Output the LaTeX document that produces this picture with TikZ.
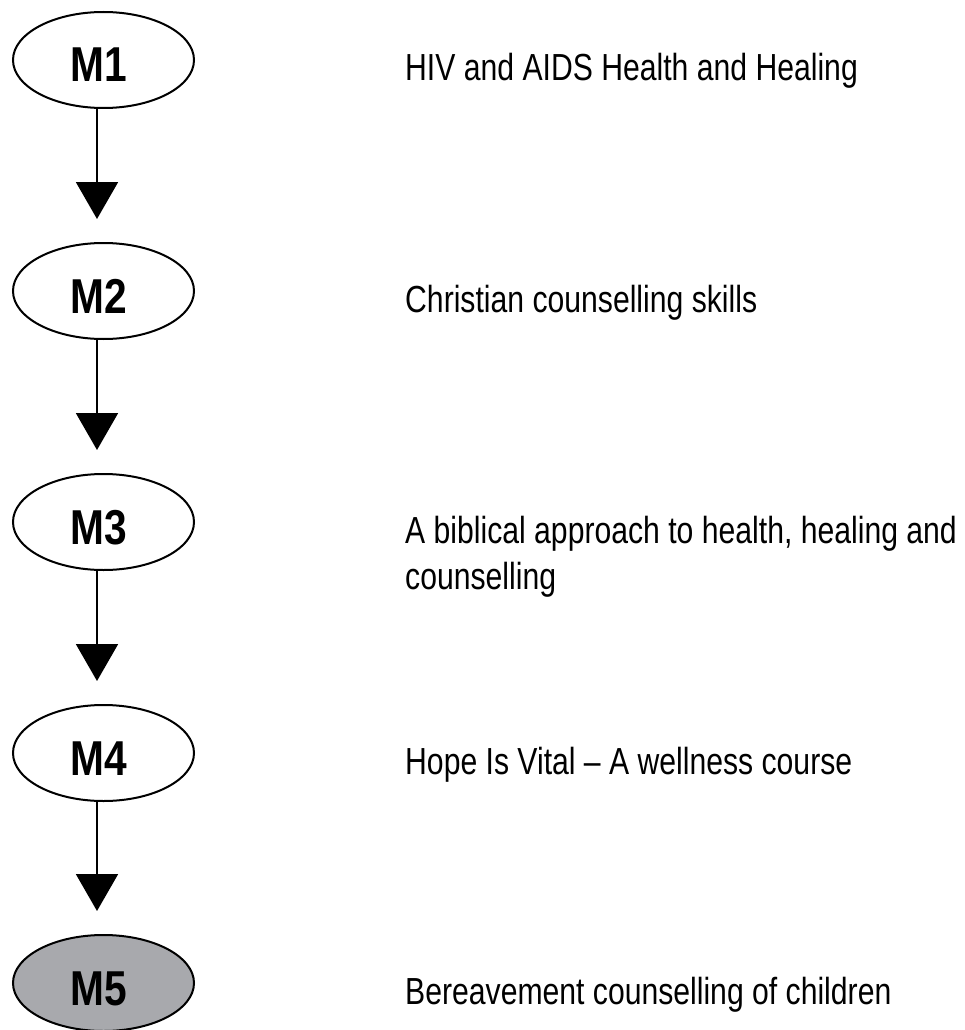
\documentclass[tikz,border=0pt]{standalone}
\usepackage{fontspec}
\setmainfont{Liberation Sans}
\newfontfamily\modfont{Liberation Sans Bold}[FakeStretch=0.83]
\newfontfamily\lblfont{Liberation Sans}[FakeStretch=0.8]
\usetikzlibrary{arrows.meta,shapes.geometric}
\definecolor{modgray}{RGB}{168,169,173}
\begin{document}
\begin{tikzpicture}[x=1pt,y=-1pt,
  module/.style={draw=black, line width=2pt, ellipse, fill=white, inner sep=0pt,
    minimum width=181pt, minimum height=96pt, text height=44pt, text depth=0pt,
    font=\modfont\fontsize{49}{58}\selectfont},
  lbl/.style={anchor=base west, inner sep=0pt, font=\lblfont\fontsize{37.7}{46}\selectfont},
  flow/.style={draw=black, line width=2pt, shorten >=23pt,
    -{Triangle[width=42pt,length=37pt]}}
]
\useasboundingbox (0,0) rectangle (965,1030);
\node[module] (m1) at (103.5,60) {M1\kern10pt};
\node[module] (m2) at (103.5,291) {M2\kern10pt};
\node[module] (m3) at (103.5,522) {M3\kern10pt};
\node[module] (m4) at (103.5,753) {M4\kern10pt};
\node[module, fill=modgray] (m5) at (103.5,983) {M5\kern10pt};

\coordinate (ax) at (97,0);
\draw[flow] (m1.south -| ax) -- (m2.north -| ax);
\draw[flow] (m2.south -| ax) -- (m3.north -| ax);
\draw[flow] (m3.south -| ax) -- (m4.north -| ax);
\draw[flow] (m4.south -| ax) -- (m5.north -| ax);

\node[lbl] (t1) at (405,81) {HIV and AIDS Health and Healing};
\node[lbl] (t2) at (405,312) {Christian counselling skills};
\node[lbl] (t3) at (405,543) {\begin{tabular}[t]{@{}l@{}}A biblical approach to health, healing and\\ counselling\end{tabular}};
\node[lbl] (t4) at (405,774) {Hope Is Vital \textendash\ A wellness course};
\node[lbl] (t5) at (405,1004) {Bereavement counselling of children};
\end{tikzpicture}
\end{document}
